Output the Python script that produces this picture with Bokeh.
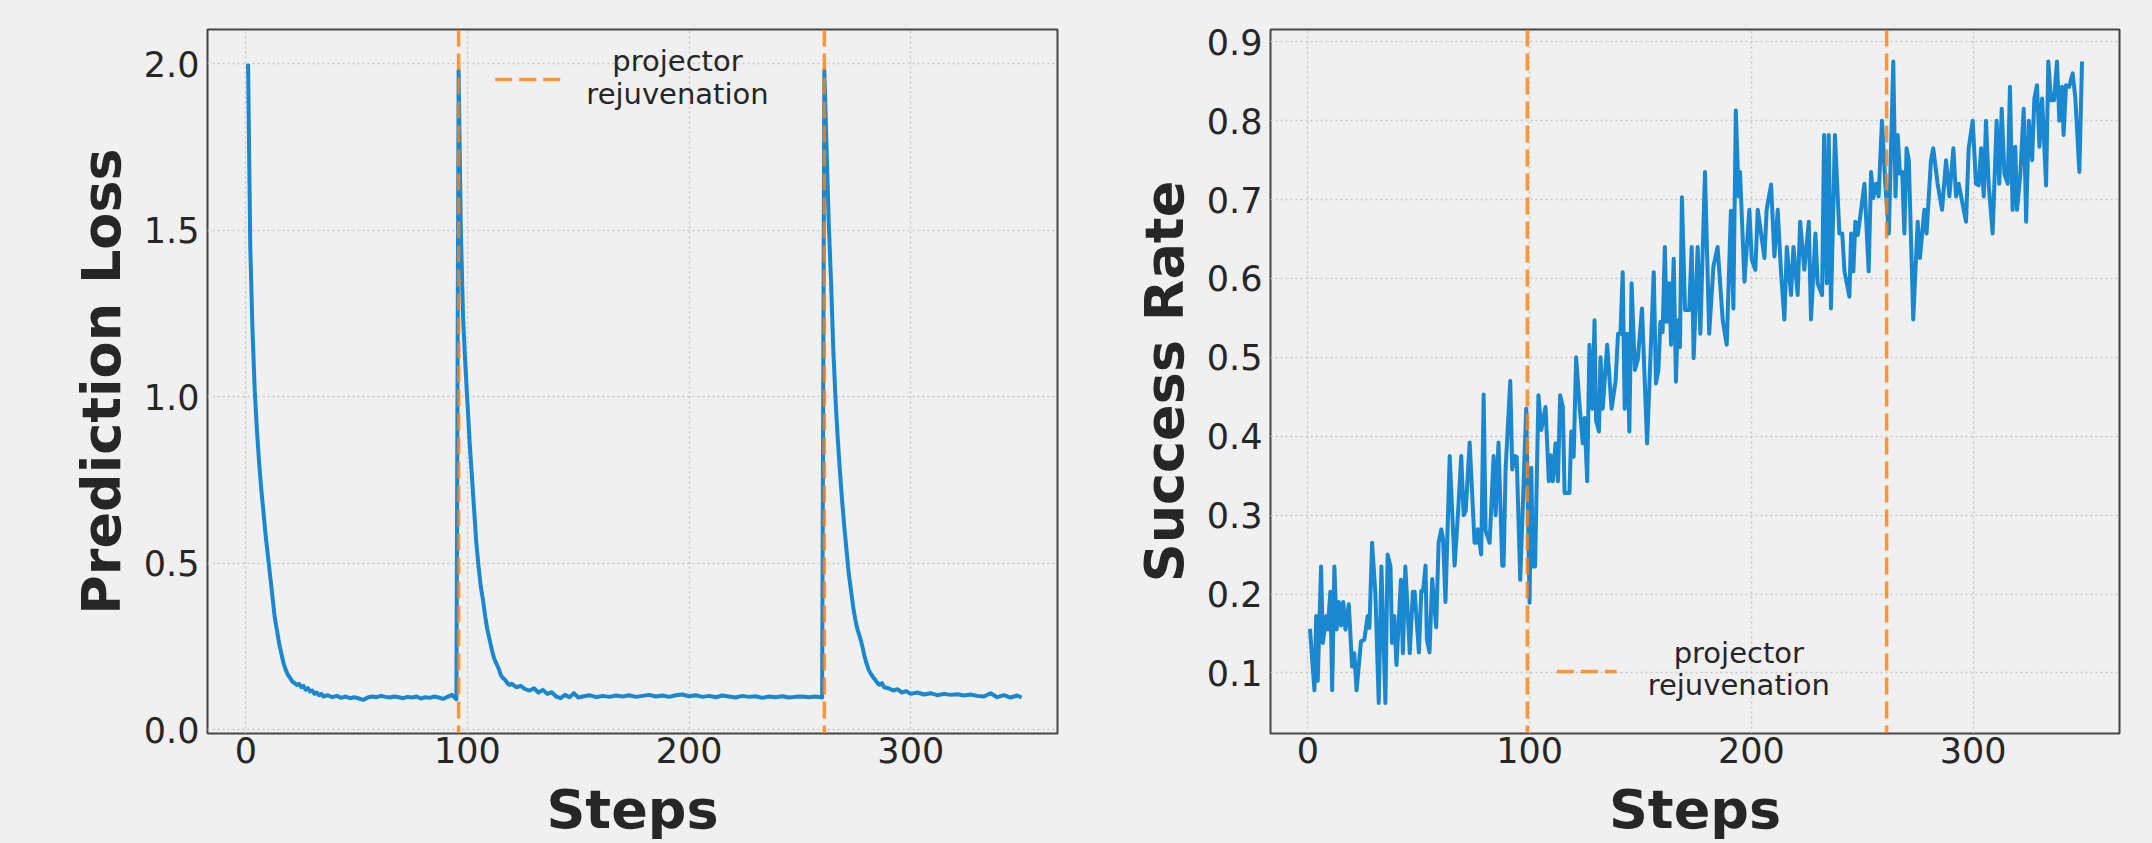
from bokeh.plotting import figure
from bokeh.layouts import row
from bokeh.models import Span, Arrow, Label, FixedTicker, Range1d
from bokeh.embed import file_html
from bokeh.resources import INLINE

# ---------------- data ----------------
loss_steps = [1, 2, 3, 4, 5, 6, 7, 8, 9, 10, 11, 12, 13, 14, 15, 16, 17, 18, 19, 20,
              21, 22, 23, 24, 25, 26, 27, 28, 29, 30, 31, 32, 33, 34, 35, 37, 39, 41, 43, 45,
              47, 49, 51, 53, 55, 57, 59, 61, 63, 65, 67, 69, 71, 73, 75, 77, 79, 81, 83, 85,
              87, 89, 91, 93, 95,
              96, 97, 98, 99, 100, 101, 102, 103, 104, 105, 106, 107, 108, 109, 110, 111, 112, 113, 114, 115,
              116, 117, 118, 119, 120, 122, 124, 126, 128, 130, 132, 134, 136, 138, 140, 142, 144, 146, 148, 150,
              152, 155, 158, 161, 164, 167, 170, 173, 176, 179, 182, 185, 188, 191, 194, 197, 200, 203, 206, 209,
              212, 215, 218, 221, 224, 227, 230, 233, 236, 239, 242, 245, 248, 251, 254, 257, 260,
              261, 262, 263, 264, 265, 266, 267, 268, 269, 270, 271, 272, 273, 274, 275, 276, 277, 278, 279, 280,
              281, 282, 283, 284, 285, 286, 287, 288, 290, 292, 294, 296, 298, 300, 303, 306, 309, 312, 315, 318,
              321, 324, 327, 330, 333, 336, 339, 342, 345, 348, 350]
loss_values = [2.00, 1.45, 1.20, 1.02, 0.90, 0.80, 0.72, 0.65, 0.58, 0.52, 0.46, 0.40, 0.34, 0.30, 0.26, 0.23, 0.20, 0.18, 0.165, 0.155,
               0.145, 0.14, 0.135, 0.138, 0.128, 0.132, 0.12, 0.125, 0.115, 0.118, 0.108, 0.112, 0.104, 0.108, 0.10, 0.104, 0.098, 0.102, 0.096, 0.10,
               0.095, 0.098, 0.094, 0.09, 0.097, 0.10, 0.098, 0.102, 0.099, 0.097, 0.10, 0.098, 0.095, 0.099, 0.097, 0.10, 0.094, 0.098, 0.096, 0.10,
               0.097, 0.093, 0.099, 0.105, 0.092,
               1.98, 1.50, 1.24, 1.10, 0.98, 0.86, 0.76, 0.66, 0.56, 0.49, 0.43, 0.39, 0.34, 0.30, 0.27, 0.24, 0.215, 0.20, 0.185, 0.165,
               0.155, 0.15, 0.14, 0.135, 0.138, 0.128, 0.132, 0.122, 0.118, 0.125, 0.112, 0.12, 0.108, 0.113, 0.10, 0.095, 0.105, 0.098, 0.11, 0.097,
               0.10, 0.104, 0.098, 0.102, 0.099, 0.103, 0.10, 0.104, 0.099, 0.102, 0.105, 0.10, 0.103, 0.099, 0.104, 0.106, 0.101, 0.104, 0.099, 0.102,
               0.098, 0.103, 0.10, 0.097, 0.102, 0.099, 0.101, 0.096, 0.10, 0.098, 0.101, 0.097, 0.099, 0.10, 0.098, 0.10, 0.097,
               1.98, 1.75, 1.52, 1.35, 1.15, 1.00, 0.88, 0.78, 0.69, 0.61, 0.54, 0.47, 0.42, 0.37, 0.33, 0.30, 0.28, 0.255, 0.225, 0.20,
               0.18, 0.168, 0.158, 0.15, 0.14, 0.135, 0.14, 0.128, 0.125, 0.118, 0.122, 0.112, 0.116, 0.108, 0.112, 0.106, 0.11, 0.104, 0.108, 0.105,
               0.107, 0.103, 0.106, 0.102, 0.10, 0.11, 0.098, 0.104, 0.097, 0.103, 0.097]

sr_steps = [1, 3, 3.8, 4.5, 6, 6.8, 8.3, 9, 10.2, 11, 12, 13, 14, 15, 16, 17, 18.5, 20, 21, 22,
            24, 25.5, 27, 27.8, 29, 30.5, 32, 33.2, 35, 36, 37.3, 38, 39, 40, 42, 42.9, 44, 46, 47.4, 48.2,
            50.1, 51.2, 52, 53.1, 53.7, 54.9, 56.1, 57.9, 59, 60.2, 61, 62.1, 64, 66.2, 67.7, 69.2, 70.3, 71.2, 73, 75.2,
            76, 76.7, 78.2, 79.3, 80.2, 82, 83.8, 84.7, 86, 87.7, 88.3, 89.2, 91.3, 92.2, 93.4, 94.2, 95.8, 98.5, 100, 100.8,
            101.5, 102.5, 104, 105.3, 107.2, 108.7, 109.5, 110.5, 111.7, 112.8, 113.8, 115, 115.8, 118, 118.8, 119.9, 121, 122.6, 124, 124.8,
            126, 127, 128.3, 129.3, 130, 131.3, 132, 133, 135, 137, 138.8, 139.9, 141, 142, 142.9, 144, 145, 146, 147.5, 148.8,
            150.7, 153, 156, 157, 158.1, 159, 160, 161, 161.8, 163, 163.8, 165, 166, 166.8, 167.8, 168.7, 170.1, 172, 173.1, 174,
            175.8, 177, 179.1, 181, 182.9, 184.8, 187.1, 188.9, 190.8, 191.9, 193, 194.3, 194.9, 196.9, 199.1, 200.2, 201.8, 202.9, 204.4, 205.9,
            206.9, 208.9, 210.4, 211.9, 213.4, 214.9, 216, 217.9, 219, 220.9, 222, 223.9, 225.9, 226.9, 228.9, 229.9, 231.9, 232.8, 234, 234.9,
            235.9, 237.7, 239.7, 241, 242, 244.2, 245, 246, 246.9, 248, 251, 252.9, 254, 255, 256.2, 257.4, 258.9, 260.4, 262, 264,
            265, 266, 267, 268, 269, 270, 271, 273, 275, 276, 278, 279, 281, 282, 284, 286, 287.8, 289.3, 291.1, 292.3,
            293.5, 296.8, 298, 299.8, 301.3, 302.5, 303.6, 304.8, 305.8, 307, 308.8, 310.6, 311.8, 312.9, 314.1, 315.6, 316.6, 317.8, 319, 319.8,
            321.3, 322.8, 323.9, 325.1, 326.6, 327.6, 328.8, 329.9, 331.1, 332.9, 333.9, 335.1, 336.5, 337.8, 338.9, 340.1, 340.8, 341.9, 343.3, 344.9,
            346.1, 347.9, 349.1]
sr_values = [0.156, 0.078, 0.172, 0.09, 0.235, 0.138, 0.172, 0.155, 0.203, 0.078, 0.235, 0.155, 0.19, 0.16, 0.19, 0.155, 0.187, 0.108, 0.125, 0.078,
             0.14, 0.142, 0.172, 0.157, 0.265, 0.2, 0.062, 0.235, 0.062, 0.25, 0.235, 0.138, 0.172, 0.11, 0.218, 0.125, 0.235, 0.125, 0.203, 0.203,
             0.126, 0.204, 0.204, 0.236, 0.143, 0.126, 0.219, 0.158, 0.265, 0.282, 0.27, 0.19, 0.375, 0.236, 0.3, 0.375, 0.3, 0.305, 0.392, 0.265,
             0.265, 0.282, 0.25, 0.453, 0.28, 0.265, 0.375, 0.3, 0.392, 0.236, 0.236, 0.358, 0.47, 0.358, 0.375, 0.374, 0.218, 0.435, 0.189, 0.36,
             0.235, 0.235, 0.452, 0.408, 0.437, 0.343, 0.376, 0.343, 0.391, 0.343, 0.452, 0.437, 0.328, 0.328, 0.406, 0.374, 0.5, 0.437, 0.391, 0.423,
             0.343, 0.516, 0.435, 0.547, 0.42, 0.406, 0.5, 0.435, 0.516, 0.435, 0.47, 0.53, 0.53, 0.608, 0.435, 0.53, 0.406, 0.594, 0.484, 0.497,
             0.562, 0.391, 0.608, 0.467, 0.484, 0.545, 0.532, 0.64, 0.545, 0.594, 0.516, 0.625, 0.469, 0.547, 0.513, 0.703, 0.56, 0.56, 0.64, 0.499,
             0.64, 0.53, 0.735, 0.53, 0.615, 0.64, 0.547, 0.516, 0.686, 0.562, 0.813, 0.704, 0.735, 0.596, 0.687, 0.624, 0.611, 0.687, 0.657, 0.626,
             0.687, 0.719, 0.628, 0.687, 0.607, 0.548, 0.64, 0.579, 0.64, 0.579, 0.672, 0.611, 0.672, 0.548, 0.657, 0.594, 0.579, 0.782, 0.594, 0.782,
             0.562, 0.782, 0.657, 0.657, 0.609, 0.577, 0.657, 0.609, 0.672, 0.655, 0.72, 0.609, 0.735, 0.702, 0.72, 0.704, 0.8, 0.72, 0.657, 0.875,
             0.704, 0.782, 0.733, 0.735, 0.657, 0.765, 0.75, 0.548, 0.672, 0.626, 0.687, 0.657, 0.75, 0.765, 0.72, 0.687, 0.75, 0.704, 0.765, 0.704,
             0.72, 0.672, 0.765, 0.8, 0.72, 0.718, 0.765, 0.704, 0.8, 0.72, 0.657, 0.8, 0.72, 0.815, 0.733, 0.72, 0.843, 0.687, 0.767, 0.687,
             0.733, 0.815, 0.672, 0.8, 0.75, 0.828, 0.845, 0.767, 0.828, 0.718, 0.875, 0.826, 0.826, 0.875, 0.8, 0.843, 0.782, 0.845, 0.843, 0.86,
             0.828, 0.735, 0.875]

loss_rejuv_steps = [96, 261]
sr_rejuv_steps = [99, 261]

x_ticks = [0, 100, 200, 300]
loss_ticks = [0.0, 0.5, 1.0, 1.5, 2.0]
loss_tick_labels = ["0.0", "0.5", "1.0", "1.5", "2.0"]
sr_ticks = [0.1, 0.2, 0.3, 0.4, 0.5, 0.6, 0.7, 0.8, 0.9]
sr_tick_labels = ["0.1", "0.2", "0.3", "0.4", "0.5", "0.6", "0.7", "0.8", "0.9"]
legend_lines = ["projector", "rejuvenation"]

# ---------------- style ----------------
BG = "#f0f0f0"
BLUE = "#1a88d0"
ORANGE = "#ff7f0e"
TXT = "#262626"
FONT = "DejaVu Sans"
H = 843
TOP = 29
FRAME_H = 705


def make_fig(width, bl, br, xr, yr, xt, yt, ytl, ylabel):
    p = figure(width=width, height=H, output_backend="svg", toolbar_location=None,
               x_range=Range1d(*xr), y_range=Range1d(*yr),
               min_border_left=bl, min_border_right=br, min_border_top=TOP,
               min_border_bottom=H - TOP - FRAME_H)
    p.background_fill_color = BG
    p.border_fill_color = BG
    p.outline_line_color = "#454545"
    p.outline_line_width = 2
    p.xaxis.ticker = FixedTicker(ticks=xt)
    p.yaxis.ticker = FixedTicker(ticks=yt)
    p.yaxis.major_label_overrides = {t: s for t, s in zip(yt, ytl)}
    p.xaxis.major_label_overrides = {t: str(t) for t in xt}
    for ax in (p.xaxis, p.yaxis):
        ax.axis_line_color = None
        ax.major_tick_line_color = None
        ax.minor_tick_line_color = None
        ax.major_tick_out = 0
        ax.major_tick_in = 0
        ax.major_label_text_font = FONT
        ax.major_label_text_font_size = "35px"
        ax.major_label_text_color = TXT
        ax.axis_label_text_font = FONT
        ax.axis_label_text_font_style = "bold"
        ax.axis_label_text_font_size = "54px"
        ax.axis_label_text_color = TXT
    p.xaxis.axis_label = "Steps"
    p.yaxis.axis_label = ylabel
    p.xaxis.major_label_standoff = 3
    p.xaxis.axis_label_standoff = 12
    p.yaxis.major_label_standoff = 8
    p.yaxis.axis_label_standoff = 8
    p.grid.grid_line_color = "#c8c8c8"
    p.grid.grid_line_width = 1.5
    p.grid.grid_line_dash = "2 3"
    return p


def add_rejuv(p, steps, dash_pos, text_pos):
    for s in steps:
        p.add_layout(Span(location=s, dimension="height", line_color=ORANGE, line_alpha=0.8,
                          line_width=3.5, line_dash="17 7"))
    x0, x1, y = dash_pos
    p.add_layout(Arrow(end=None, x_start=x0, y_start=y, x_end=x1, y_end=y,
                       start_units="screen", end_units="screen",
                       line_color=ORANGE, line_alpha=0.8, line_width=3.5, line_dash="17 7"))
    tx, ty1, ty2 = text_pos
    for t, ty in zip(legend_lines, (ty1, ty2)):
        p.add_layout(Label(x=tx, y=ty, x_units="screen", y_units="screen", text=t,
                           text_align="center", text_baseline="middle", text_font=FONT,
                           text_font_size="29px", text_color=TXT))


p1 = make_fig(1080, 207, 23, (-17.3, 366.2), (-0.011, 2.103), x_ticks, loss_ticks,
              loss_tick_labels, "Prediction Loss")
p1.line(loss_steps, loss_values, line_color=BLUE, line_width=4, line_join="round")
add_rejuv(p1, loss_rejuv_steps, (287.7, 352.7, 654), (470, 672.2, 639.9))

p2 = make_fig(1072, 190, 33, (-16.8, 366.0), (0.0232, 0.9156), x_ticks, sr_ticks,
              sr_tick_labels, "Success Rate")
p2.line(sr_steps, sr_values, line_color=BLUE, line_width=4, line_join="round")
add_rejuv(p2, sr_rejuv_steps, (286.4, 346.2, 62), (468.3, 81, 48.5))

layout = row(p1, p2)

html = file_html(layout, INLINE)
html = html.replace("</head>", "<style>html,body{background-color:#f0f0f0;}</style></head>", 1)
open("out.html", "w").write(html)
